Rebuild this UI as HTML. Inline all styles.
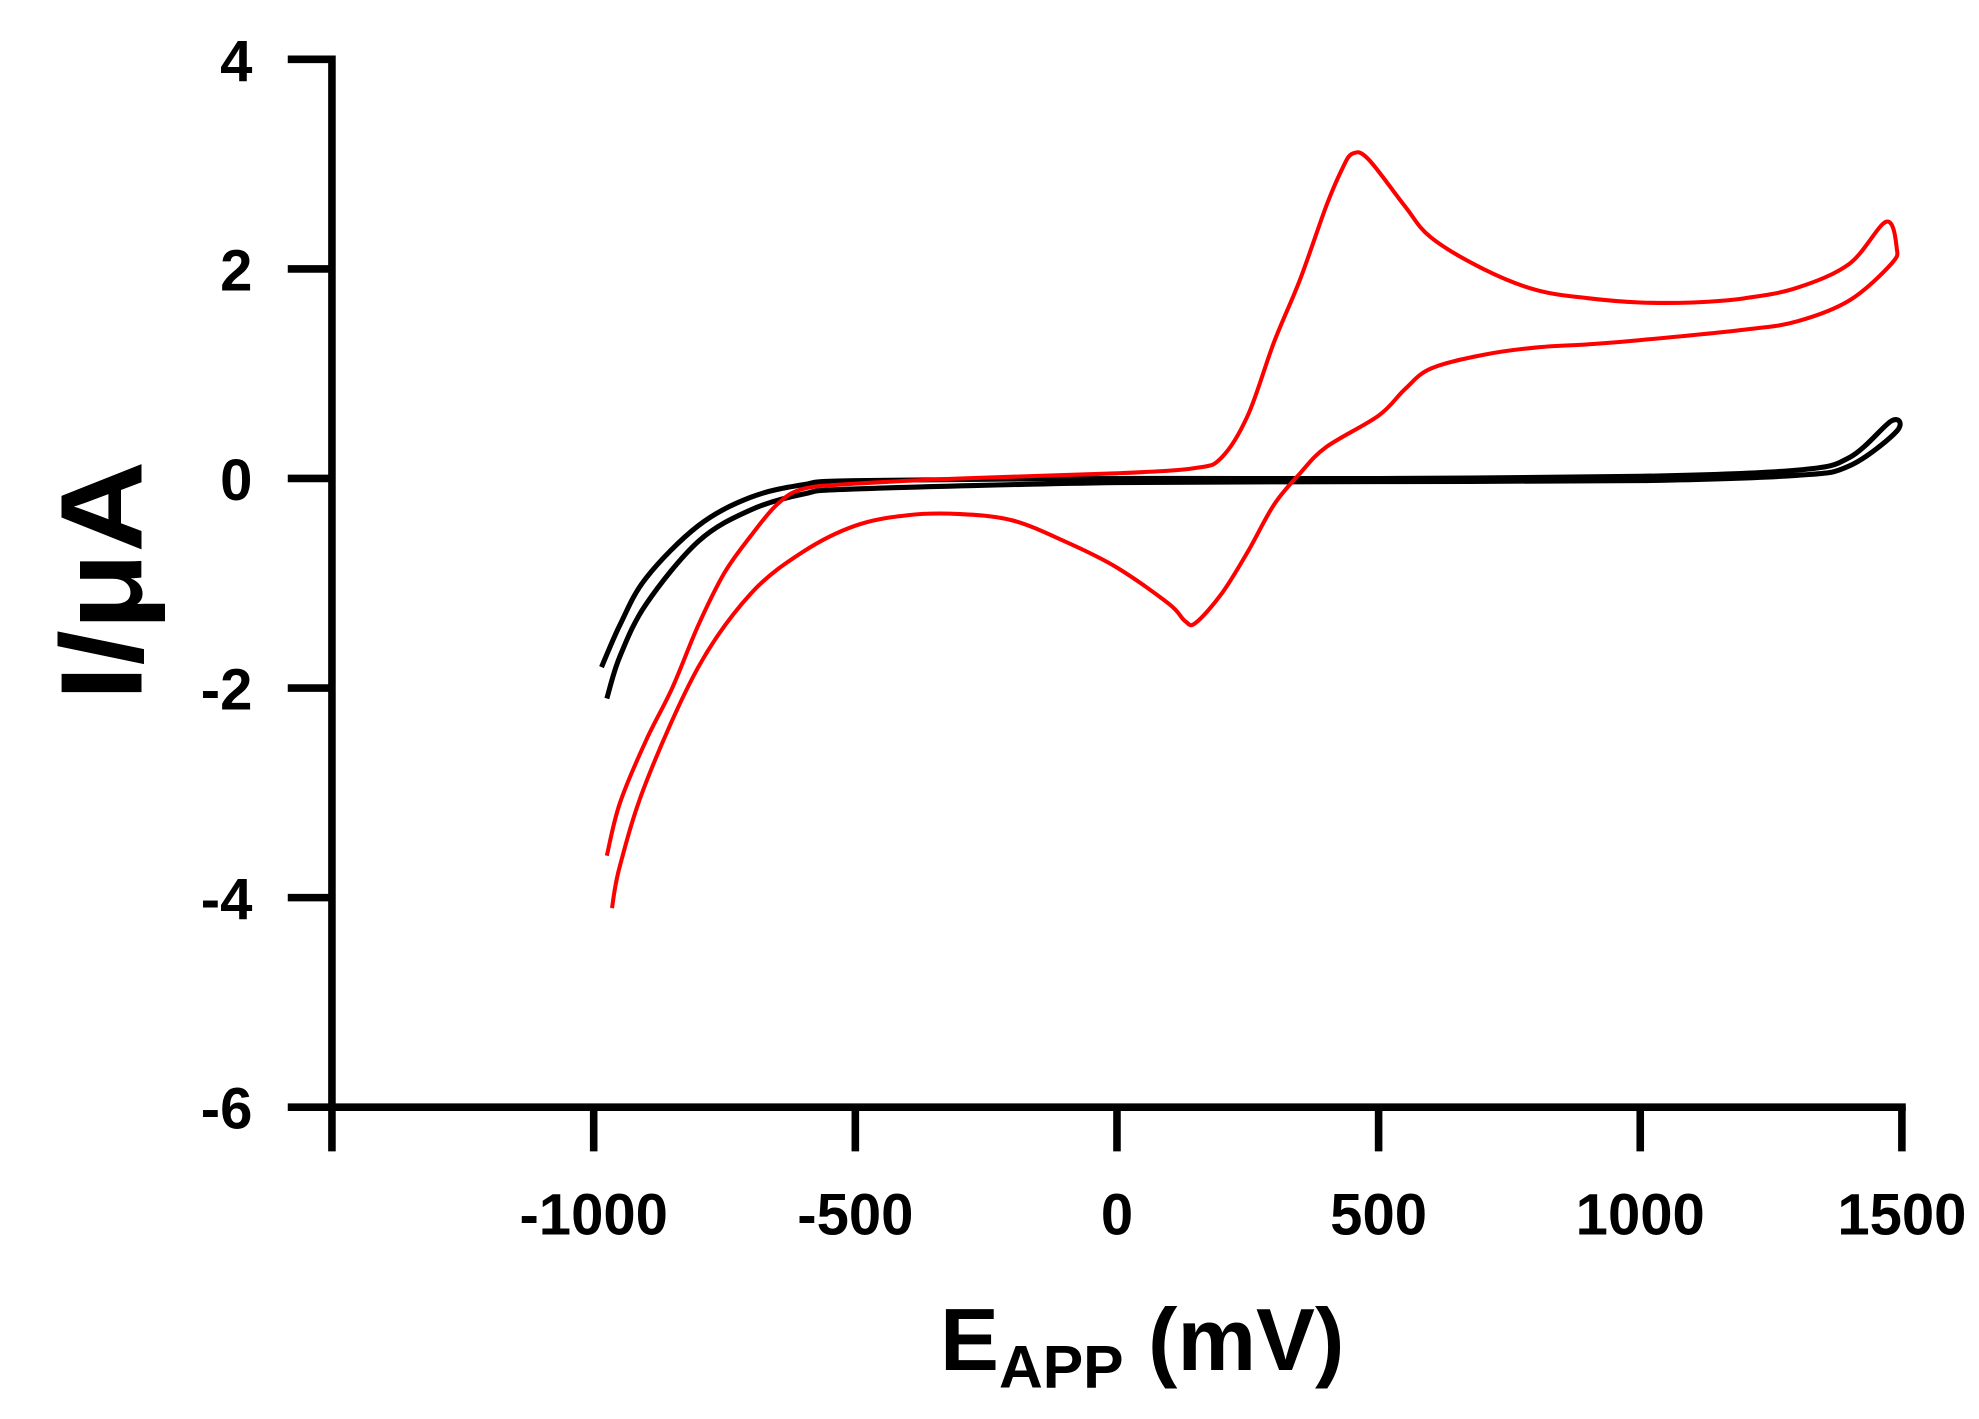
<!DOCTYPE html>
<html><head><meta charset="utf-8"><style>
html,body{margin:0;padding:0;background:#fff;}
svg{display:block;}
text{font-family:"Liberation Sans",Arial,sans-serif;font-weight:bold;fill:#000;}
</style></head><body>
<svg id="chart" width="1979" height="1419" viewBox="0 0 1568 1124" preserveAspectRatio="none" xmlns="http://www.w3.org/2000/svg">
<g id="axes"></g>
<g id="series"></g>
<text transform="translate(112,460) rotate(-90)" text-anchor="middle" font-size="92" textLength="190" lengthAdjust="spacingAndGlyphs">I/μA</text>
<text x="905" y="1085" text-anchor="middle" font-size="70">E<tspan font-size="48" dy="14">APP</tspan><tspan dy="-14"> (mV)</tspan></text>
</svg>
<script>
const xTicks = [-1000, -500, 0, 500, 1000, 1500];
const xTickLabels = ["-1000", "-500", "0", "500", "1000", "1500"];
const yTicks = [4, 2, 0, -2, -4, -6];
const yTickLabels = ["4", "2", "0", "-2", "-4", "-6"];
const blackE = [-985,-950,-900,-800,-700,-600,-500,0,500,1000,1300,1400,1480,1490,1400,1300,1000,500,0,-500,-600,-700,-800,-900,-950,-975];
const blackI = [-1.8,-1.4,-0.95,-0.45,-0.18,-0.06,-0.02,0.0,0.0,0.02,0.08,0.2,0.55,0.45,0.12,0.03,-0.02,-0.03,-0.04,-0.1,-0.15,-0.3,-0.6,-1.2,-1.7,-2.1];
const redE = [-975,-950,-900,-850,-800,-750,-700,-650,-600,-500,-300,0,150,200,250,300,350,400,430,450,480,550,600,700,800,900,1000,1100,1200,1300,1400,1470,1490,1480,1400,1300,1200,1000,900,800,700,600,550,500,400,350,300,250,200,150,130,100,0,-100,-200,-300,-400,-500,-600,-700,-800,-900,-950,-965];
const redI = [-3.6,-3.1,-2.5,-2.0,-1.4,-0.9,-0.55,-0.25,-0.1,-0.05,0.0,0.05,0.1,0.2,0.6,1.3,1.9,2.6,2.95,3.1,3.05,2.6,2.3,2.0,1.8,1.72,1.68,1.68,1.72,1.82,2.05,2.45,2.2,2.05,1.7,1.5,1.42,1.32,1.28,1.25,1.18,1.05,0.85,0.6,0.3,0.05,-0.25,-0.7,-1.1,-1.38,-1.36,-1.2,-0.85,-0.6,-0.4,-0.34,-0.35,-0.45,-0.7,-1.1,-1.8,-2.9,-3.7,-4.1];

const NS = "http://www.w3.org/2000/svg";
function xs(v){ return 885 + (v/500)*207.3; }
function ys(v){ return 379 - v*83; }
const axes = document.getElementById('axes');
const series = document.getElementById('series');
function mk(tag, attrs, parent){ const e=document.createElementNS(NS,tag); for(const k in attrs) e.setAttribute(k,attrs[k]); parent.appendChild(e); return e; }

const yl = mk('line',{x1:263,y1:44,x2:263,y2:880,stroke:'#000','stroke-width':6},axes);


const xl = mk('line',{x1:260,y1:877,x2:1510,y2:877,stroke:'#000','stroke-width':6},axes);


const t0 = mk('line',{x1:263,y1:877,x2:263,y2:912,stroke:'#000','stroke-width':6},axes);


xTicks.forEach((v,i)=>{
  const t = mk('line',{x1:xs(v),y1:877,x2:xs(v),y2:912,stroke:'#000','stroke-width':6},axes);
  
  
  const l = mk('text',{x:xs(v),y:978,'text-anchor':'middle','font-size':46},axes);
  
  
  l.textContent = xTickLabels[i];
});
yTicks.forEach((v,i)=>{
  const t = mk('line',{x1:228,y1:ys(v),x2:263,y2:ys(v),stroke:'#000','stroke-width':6},axes);
  
  
  const l = mk('text',{x:200,y:ys(v)+17,'text-anchor':'end','font-size':46},axes);
  
  
  l.textContent = yTickLabels[i];
});
function smooth(E,I){
  const p = E.map((e,i)=>[xs(e),ys(I[i])]);
  let d = 'M'+p[0][0].toFixed(1)+','+p[0][1].toFixed(1);
  for(let i=0;i<p.length-1;i++){
    const p0=p[Math.max(0,i-1)], p1=p[i], p2=p[i+1], p3=p[Math.min(p.length-1,i+2)];
    const c1=[p1[0]+(p2[0]-p0[0])/6, p1[1]+(p2[1]-p0[1])/6];
    const c2=[p2[0]-(p3[0]-p1[0])/6, p2[1]-(p3[1]-p1[1])/6];
    d+=' C'+c1[0].toFixed(1)+','+c1[1].toFixed(1)+' '+c2[0].toFixed(1)+','+c2[1].toFixed(1)+' '+p2[0].toFixed(1)+','+p2[1].toFixed(1);
  }
  return d;
}
const b = mk('path',{d:smooth(blackE,blackI),fill:'none',stroke:'#000','stroke-width':4,'stroke-linejoin':'round'},series);


const r = mk('path',{d:smooth(redE,redI),fill:'none',stroke:'#ff0000','stroke-width':3.2,'stroke-linejoin':'round'},series);


</script>
</body></html>
